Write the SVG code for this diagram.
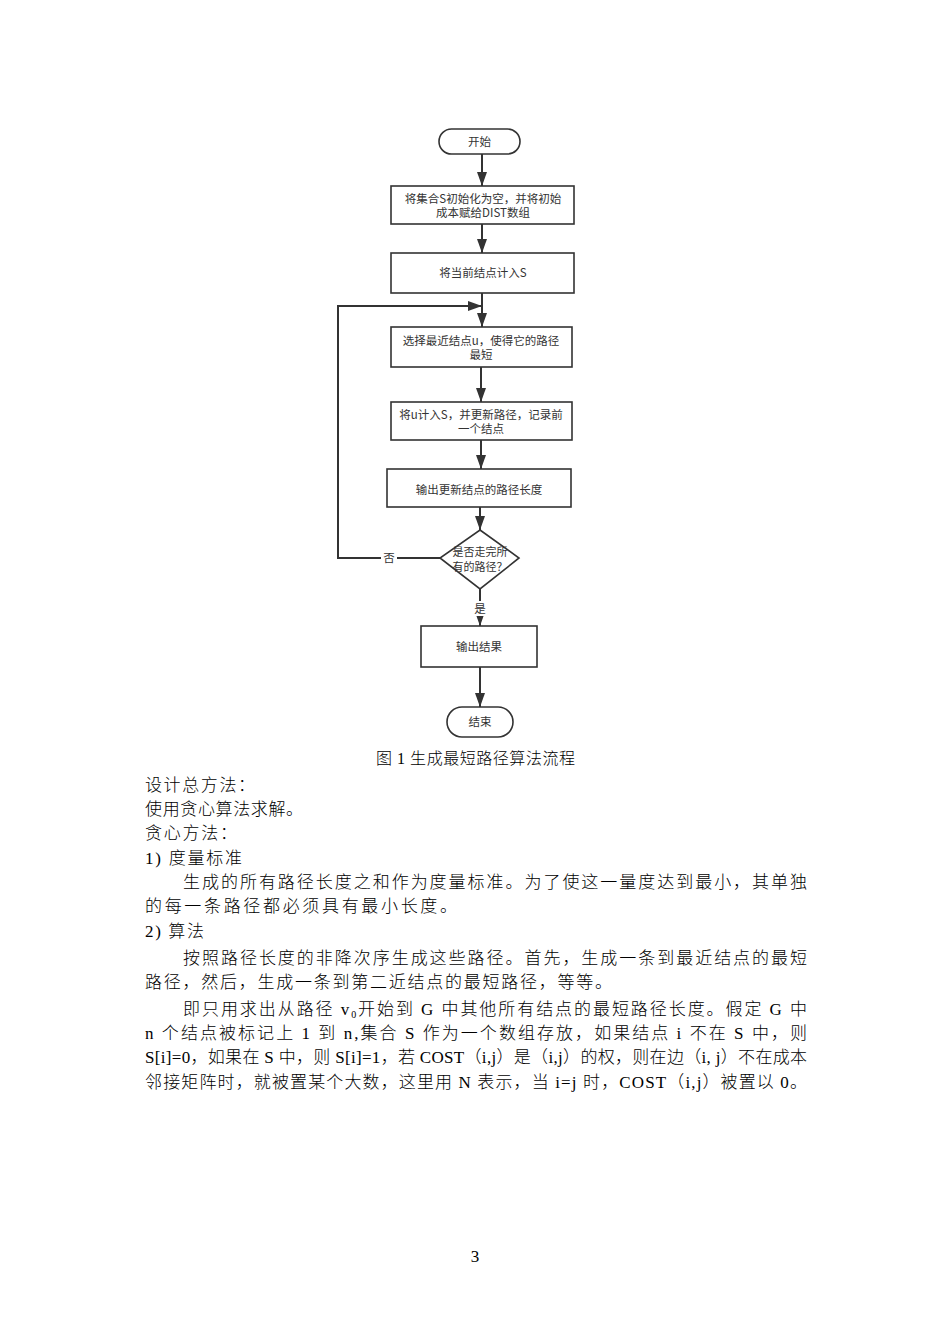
<svg xmlns="http://www.w3.org/2000/svg" width="950" height="1344" viewBox="0 0 950 1344">
<style>
.bg{fill:#ffffff}
.box{fill:#ffffff;stroke:#333333;stroke-width:1.6}
.ft{font-family:"Noto Sans CJK SC","Liberation Sans",sans-serif;font-size:11.5px;fill:#333333;text-anchor:middle}
.dt{font-family:"Noto Sans CJK SC","Liberation Sans",sans-serif;font-size:11px;fill:#333333;text-anchor:middle}
.ln{fill:none;stroke:#333333;stroke-width:2}
.lbl{font-family:"Noto Sans CJK SC","Liberation Sans",sans-serif;font-size:11.5px;fill:#333333;text-anchor:middle}
.body{font-family:"Liberation Serif","Noto Sans CJK SC",serif;font-size:17px;font-weight:300;fill:#000000}
.cap{font-family:"Liberation Serif","Noto Sans CJK SC",serif;font-size:16px;font-weight:300;fill:#000000}
</style>
<defs>
<marker id="arr" markerUnits="userSpaceOnUse" markerWidth="14" markerHeight="12" viewBox="0 0 14 12" refX="14" refY="6" orient="auto">
<path d="M0,1 L14,6 L0,11 z" fill="#333333"/>
</marker>
</defs>
<rect class="bg" x="0" y="0" width="950" height="1344"/>

<g id="connectors">
<line class="ln" x1="482" y1="154" x2="482" y2="186" marker-end="url(#arr)"/>
<line class="ln" x1="482" y1="224" x2="482" y2="253" marker-end="url(#arr)"/>
<line class="ln" x1="482" y1="293" x2="482" y2="327" marker-end="url(#arr)"/>
<line class="ln" x1="481" y1="367" x2="481" y2="402" marker-end="url(#arr)"/>
<line class="ln" x1="481" y1="440" x2="481" y2="469" marker-end="url(#arr)"/>
<line class="ln" x1="480" y1="507" x2="480" y2="530" marker-end="url(#arr)"/>
<line class="ln" x1="480" y1="589" x2="480" y2="626" marker-end="url(#arr)"/>
<line class="ln" x1="480" y1="667" x2="480" y2="707" marker-end="url(#arr)"/>
<polyline class="ln" points="440,558 338,558 338,306 482,306" marker-end="url(#arr)"/>
<rect x="381" y="550" width="16" height="15" fill="#ffffff"/>
<text class="lbl" x="389" y="562">否</text>
<rect x="472" y="601" width="16" height="15" fill="#ffffff"/>
<text class="lbl" x="480" y="613">是</text>
</g>

<g id="start">
<rect class="box" x="439" y="129" width="81" height="25" rx="12.5"/>
<text class="ft" x="479.5" y="146">开始</text>
</g>
<g id="init">
<rect class="box" x="391" y="186" width="183" height="38"/>
<text class="ft" x="483" y="203">将集合S初始化为空，并将初始</text>
<text class="ft" x="483" y="217">成本赋给DIST数组</text>
</g>
<g id="addcur">
<rect class="box" x="391" y="253" width="183" height="40"/>
<text class="ft" x="483" y="277">将当前结点计入S</text>
</g>
<g id="select">
<rect class="box" x="391" y="327" width="181" height="40"/>
<text class="ft" x="481" y="345">选择最近结点u，使得它的路径</text>
<text class="ft" x="481" y="359">最短</text>
</g>
<g id="update">
<rect class="box" x="391" y="402" width="181" height="38"/>
<text class="ft" x="481" y="419">将u计入S，并更新路径，记录前</text>
<text class="ft" x="481" y="433">一个结点</text>
</g>
<g id="outlen">
<rect class="box" x="387" y="469" width="184" height="38"/>
<text class="ft" x="479" y="494">输出更新结点的路径长度</text>
</g>
<g id="decision">
<polygon class="box" points="480,530 519,558 480,589 440,558"/>
<text class="dt" x="480" y="556">是否走完所</text>
<text class="dt" x="480" y="571">有的路径？</text>
</g>
<g id="result">
<rect class="box" x="421" y="626" width="116" height="41"/>
<text class="ft" x="479" y="651">输出结果</text>
</g>
<g id="end">
<rect class="box" x="447" y="707" width="66" height="30" rx="15"/>
<text class="ft" x="480" y="726">结束</text>
</g>

<g id="caption">
<text class="cap" x="376" y="764" textLength="199" lengthAdjust="spacing">图 1 生成最短路径算法流程</text>
</g>

<g id="bodytext">
<text class="body" x="145" y="791" textLength="110" lengthAdjust="spacing">设计总方法：</text>
<text class="body" x="145" y="815" textLength="158" lengthAdjust="spacing">使用贪心算法求解。</text>
<text class="body" x="145" y="839" textLength="92" lengthAdjust="spacing">贪心方法：</text>
<text class="body" x="145" y="864" textLength="97" lengthAdjust="spacing">1) 度量标准</text>
<text class="body" x="183" y="888" textLength="624" lengthAdjust="spacing">生成的所有路径长度之和作为度量标准。为了使这一量度达到最小，其单独</text>
<text class="body" x="145" y="912" textLength="312" lengthAdjust="spacing">的每一条路径都必须具有最小长度。</text>
<text class="body" x="145" y="937" textLength="59" lengthAdjust="spacing">2) 算法</text>
<text class="body" x="183" y="964" textLength="624" lengthAdjust="spacing">按照路径长度的非降次序生成这些路径。首先，生成一条到最近结点的最短</text>
<text class="body" x="145" y="988" textLength="467" lengthAdjust="spacing">路径，然后，生成一条到第二近结点的最短路径，等等。</text>
<text class="body" x="183" y="1015" textLength="624" lengthAdjust="spacing">即只用求出从路径 v<tspan font-size="10" dy="3">0</tspan><tspan dy="-3">开始到 G 中其他所有结点的最短路径长度。假定 G 中</tspan></text>
<text class="body" x="145" y="1039" textLength="662" lengthAdjust="spacing">n 个结点被标记上 1 到 n,集合 S 作为一个数组存放，如果结点 i 不在 S 中，则</text>
<text class="body" x="145" y="1063" textLength="662" lengthAdjust="spacing">S[i]=0，如果在 S 中，则 S[i]=1，若 COST（i,j）是（i,j）的权，则在边（i, j）不在成本</text>
<text class="body" x="145" y="1088" textLength="662" lengthAdjust="spacing">邻接矩阵时，就被置某个大数，这里用 N 表示，当 i=j 时，COST（i,j）被置以 0。</text>
</g>

<g id="pagenum">
<text class="body" x="475" y="1262" font-size="12" text-anchor="middle">3</text>
</g>
</svg>
